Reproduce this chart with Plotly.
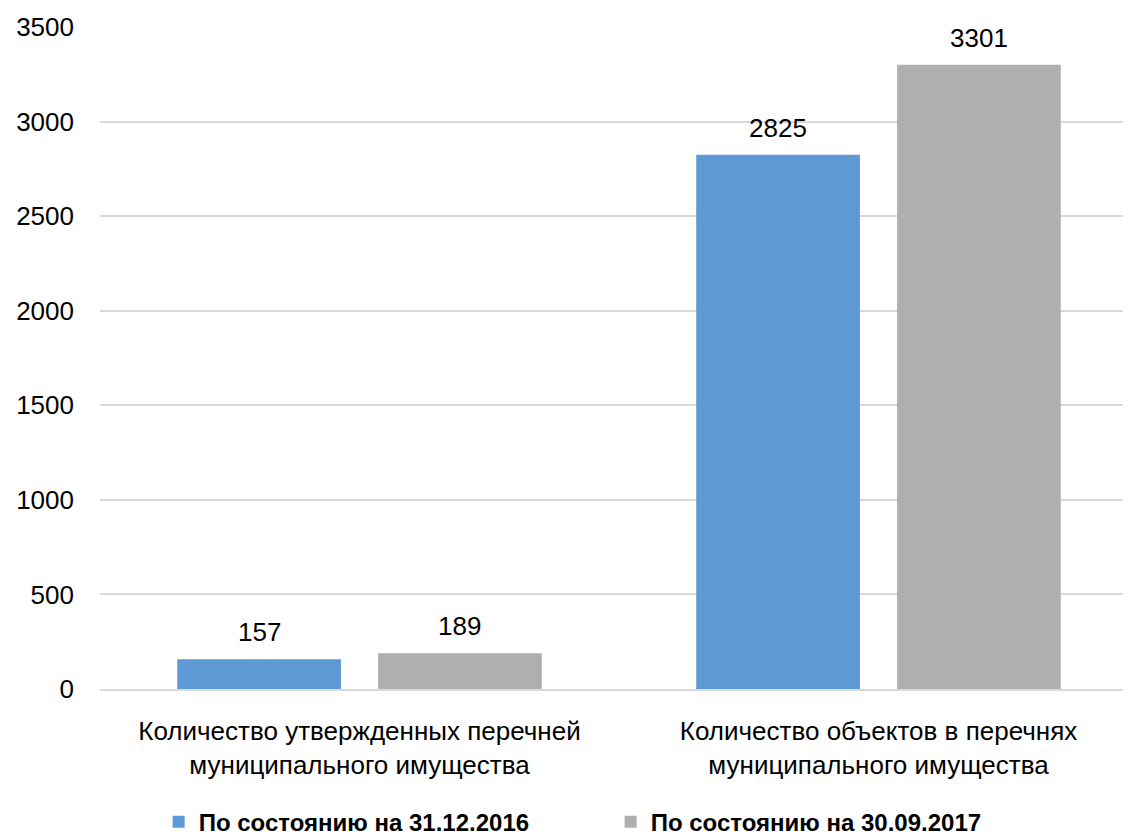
import plotly.graph_objects as go

categories = ["Количество утвержденных перечней<br>муниципального имущества",
              "Количество объектов в перечнях<br>муниципального имущества"]
series_names = ["По состоянию на 31.12.2016", "По состоянию на 30.09.2017"]
values_2016 = [157, 2825]
values_2017 = [189, 3301]
y_ticks = [0, 500, 1000, 1500, 2000, 2500, 3000, 3500]

FONT = "Liberation Sans Narrow, Arial Narrow, Liberation Sans, Arial, sans-serif"
colors = ["#5d99d4", "#afafaf"]

W, H = 1131, 838
ML, MR, MT, MB = 92, 1, 19, 157
BARGAP = 0.226
plot_w = W - ML - MR
cat_px = plot_w / len(categories)
slot_px = cat_px * (1 - BARGAP) / 2

fig = go.Figure()
for i, (name, vals) in enumerate([(series_names[0], values_2016), (series_names[1], values_2017)]):
    fig.add_trace(go.Bar(
        x=categories, y=vals, name=name,
        marker=dict(color=colors[i], line=dict(width=0)),
        hoverinfo="x+y",
    ))
    for c, v in zip(categories, vals):
        fig.add_annotation(
            x=c, y=v, text=str(v), showarrow=False,
            xanchor="center", yanchor="bottom",
            xshift=(i - 0.5) * slot_px, yshift=10,
            font=dict(size=26, color="#000000", family=FONT),
        )

fig.update_layout(
    width=W, height=H,
    margin=dict(l=ML, r=MR, t=MT, b=MB),
    paper_bgcolor="white", plot_bgcolor="white",
    barmode="group", bargap=BARGAP, bargroupgap=0.185,
    font=dict(family=FONT, size=26, color="#000000"),
    showlegend=True,
    legend=dict(orientation="h", x=0.0565, xanchor="left", y=-0.201, yanchor="middle",
                font=dict(family=FONT, size=24, color="#000000", weight="bold"),
                entrywidth=407, entrywidthmode="pixels",
                traceorder="normal", bgcolor="rgba(0,0,0,0)"),
)
fig.update_xaxes(showgrid=False, showline=True, linecolor="#d9d9d9", linewidth=1.5,
                 ticks="", ticklabelstandoff=18,
                 tickfont=dict(size=26, family=FONT), automargin=False)
fig.update_yaxes(range=[0, 3500], tickvals=y_ticks, ticktext=[str(t) for t in y_ticks],
                 showgrid=True, gridcolor="#d9d9d9", gridwidth=1.5, zeroline=False,
                 showline=False, ticks="", ticklabelstandoff=25,
                 tickfont=dict(size=26, family=FONT), automargin=False)

fig.write_html("out.html")
